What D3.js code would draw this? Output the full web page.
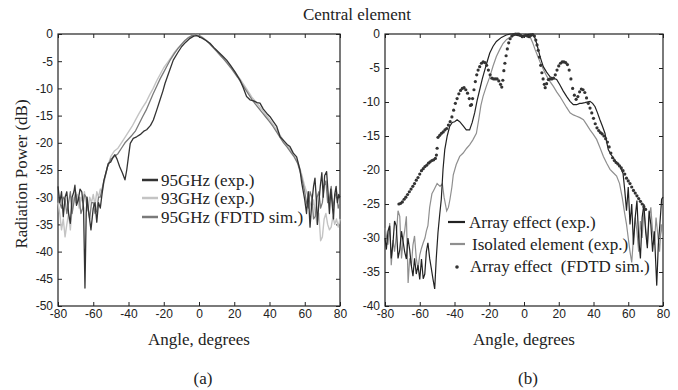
<!DOCTYPE html>
<html>
<head>
<meta charset="utf-8">
<script src="https://cdn.jsdelivr.net/npm/d3@7"></script>
<style>
  body { margin: 0; background: #fff; }
  svg { display: block; }
  .tick text { font-family: "Liberation Sans", Arial, sans-serif; font-size: 12px; fill: #222; }
  .serif { font-family: "Liberation Serif", "Times New Roman", serif; fill: #222; }
</style>
</head>
<body>
<svg id="chart" width="678" height="390"></svg>
<script>
// ---- data (angle in degrees, power in dB) ----
const xTicks = [-80, -60, -40, -20, 0, 20, 40, 60, 80];
const yTicksA = [0, -5, -10, -15, -20, -25, -30, -35, -40, -45, -50];
const yTicksB = [0, -5, -10, -15, -20, -25, -30, -35, -40];

const legendA = ["95GHz (exp.)", "93GHz (exp.)", "95GHz (FDTD sim.)"];
const legendB = ["Array effect (exp.)", "Isolated element (exp.)", "Array effect  (FDTD sim.)"];

const exp95 = [[-80,-28],[-79,-31],[-78,-29],[-77,-33.6],[-76,-30],[-75,-29],[-74,-33],[-73,-34.8],[-72,-30],[-71,-29],[-70.4,-27.8],[-69.5,-31.5],[-68.5,-30.5],[-67.5,-28.5],[-66.5,-29],[-65.5,-32],[-64.7,-46.7],[-64,-33],[-63.5,-30],[-62.5,-33],[-61.3,-36],[-60,-32],[-59,-31],[-58,-34.6],[-57,-31],[-56,-32],[-55.2,-29.9],[-54,-27],[-52.4,-25],[-51.5,-23.8],[-50,-23.5],[-48.5,-22.5],[-47.7,-22.2],[-46.5,-23],[-45,-24.4],[-43.5,-25.5],[-42,-26.8],[-41,-25],[-40,-22.5],[-39,-20.1],[-37.3,-19.2],[-35.4,-18.9],[-33,-18.4],[-31,-17.8],[-29.7,-17.6],[-27.5,-16.8],[-25.9,-15.8],[-24,-14],[-22.1,-12.1],[-20.5,-10.5],[-19.3,-9.1],[-17,-7],[-14.6,-4.8],[-12,-3.4],[-9.8,-2.3],[-7.5,-1.5],[-5.1,-0.8],[-3,-0.4],[-1.3,-0.3],[0,-0.5],[2,-0.8],[4,-1.2],[6.2,-1.7],[8.5,-2.5],[11,-3.3],[13.5,-4.1],[15.7,-4.8],[18,-5.8],[20.5,-7],[23.3,-8.5],[25,-9.8],[27,-11.5],[28.9,-12.1],[31,-12.3],[33,-12.6],[34.6,-12.7],[36.5,-13.8],[38.5,-14.6],[40.3,-15.2],[42,-16],[44.1,-17],[46,-18.9],[47.8,-19.5],[50,-20.3],[51.6,-20.7],[53.5,-21.9],[55.4,-22.6],[57.3,-25],[58.3,-27.4],[59.2,-29],[60,-30.5],[61,-33],[62,-29],[63,-35.5],[64,-31],[65,-28],[65.8,-26.5],[66.5,-30],[67.2,-35],[68,-31],[68.8,-28],[69.7,-25.5],[70.5,-30],[71.3,-26],[72.4,-25.3],[73.2,-29],[74,-33],[74.8,-28.5],[75.5,-31],[76.3,-34],[77,-29.5],[77.8,-28],[78.5,-31],[79.3,-29.5],[80,-30]];

const exp93 = [[-80,-31],[-79,-33],[-78,-36],[-77,-34],[-76,-37.3],[-75,-35],[-74,-33],[-73,-36],[-72,-32],[-71,-30],[-70,-31],[-69,-29.5],[-68,-32],[-67,-30],[-66,-31],[-65,-29],[-64,-31],[-63,-32.5],[-62,-30],[-61,-31],[-60,-29.5],[-59,-31.5],[-58,-29],[-57,-30],[-56,-28.5],[-55,-29],[-54,-27.5],[-52,-24.5],[-50,-22.5],[-48,-21.5],[-46,-21],[-44,-20],[-42,-19],[-40,-18],[-38,-17],[-36,-15.8],[-34,-14.6],[-32,-13.5],[-30,-12.5],[-28,-11.2],[-26,-10],[-24,-8.6],[-22,-7.4],[-20,-6.2],[-18,-5.3],[-16,-4.4],[-14,-3.4],[-12,-2.6],[-10,-2],[-8,-1.3],[-6,-0.6],[-4,-0.3],[-2,-0.1],[0,-0.2],[2,-0.6],[4,-1.1],[6,-1.7],[8,-2.4],[10,-3.1],[12,-3.8],[14,-4.5],[16,-5.2],[18,-6],[20,-6.8],[22,-7.7],[24,-8.6],[26,-9.6],[28,-10.6],[30,-11.6],[32,-12.4],[34,-13.2],[36,-14],[38,-14.9],[40,-15.7],[42,-16.6],[44,-17.6],[46,-18.6],[48,-19.6],[50,-20.5],[52,-21.4],[54,-22.4],[56,-23.5],[58,-25.5],[60,-28],[62,-30],[64,-32],[65,-30.5],[66,-33],[67,-35],[68,-33],[69,-38],[70,-37.3],[71,-34],[72,-33],[73,-35],[74,-36],[75,-35.5],[76,-33.5],[77,-35],[78,-34],[79,-35.5],[80,-34]];

const sim95 = [[-80,-29],[-79,-31],[-78,-32],[-77,-30],[-76,-30.5],[-75,-33],[-74,-31],[-73,-29],[-72,-33],[-71,-31],[-70,-29],[-69,-31],[-68,-30],[-67,-33],[-66,-32],[-65,-29.5],[-64,-30],[-63,-32],[-62,-34],[-61,-31],[-60,-31],[-59,-33],[-58,-32.5],[-57,-30],[-56,-30],[-55,-28.5],[-54,-27],[-52,-24.5],[-50,-23],[-48,-22.5],[-46,-22],[-44,-21],[-42,-20],[-40,-19.3],[-38,-18.6],[-36,-17.8],[-34,-16.5],[-32,-15.2],[-30,-14],[-28,-12.5],[-26,-11],[-24,-9.6],[-22,-8.2],[-20,-7],[-18,-5.8],[-16,-4.6],[-14,-3.6],[-12,-2.7],[-10,-1.9],[-8,-1.2],[-6,-0.7],[-4,-0.3],[-2,-0.1],[0,-0.3],[2,-0.7],[4,-1.2],[6,-1.8],[8,-2.5],[10,-3.2],[12,-3.9],[14,-4.6],[16,-5.4],[18,-6.2],[20,-7.1],[22,-8],[24,-9],[26,-10],[28,-11],[30,-12],[32,-12.9],[34,-13.7],[36,-14.5],[38,-15.3],[40,-16.1],[42,-17],[44,-18],[46,-19],[48,-20],[50,-20.8],[52,-21.7],[54,-22.6],[56,-23.8],[58,-26],[60,-29],[61,-31],[62,-32],[63,-29],[64,-30],[65,-34],[66,-33.5],[67,-30],[68,-29],[69,-32],[70,-31],[71,-28],[72,-27],[73,-31],[74,-30.5],[75,-28],[76,-32],[77,-30],[78,-29],[79,-32],[80,-31]];

const arrayExp = [[-80,-30],[-79.2,-31.7],[-78.3,-29],[-77.3,-28.2],[-76.4,-33],[-75.4,-30.7],[-74.5,-27.5],[-73.5,-28.2],[-72.5,-33],[-71.5,-31.7],[-70.5,-29],[-69.6,-30.5],[-68.7,-32],[-67.7,-33.1],[-66.8,-30],[-65.8,-31.7],[-64.9,-34],[-63.9,-35.6],[-63,-33],[-62,-35.3],[-61,-34],[-60,-36.1],[-59,-33.1],[-58,-36],[-57.1,-35.3],[-56.2,-32],[-55.3,-30.7],[-54.3,-33],[-53.4,-34.4],[-52.4,-36],[-51.4,-37.5],[-50.5,-33],[-49.5,-29.2],[-48.5,-26.5],[-47.6,-24.3],[-46.6,-19.9],[-45.6,-17],[-44.2,-15],[-42.8,-13.6],[-41.3,-13],[-39.9,-12.9],[-38.5,-12.6],[-37,-12.9],[-35,-13.5],[-33.2,-14.1],[-31.3,-14.1],[-29.8,-13],[-28.4,-11.6],[-27,-9.8],[-25.5,-8.2],[-24,-6.6],[-22.6,-5.3],[-21,-3.9],[-19.7,-2.8],[-17.8,-1.8],[-15.9,-1.1],[-13,-0.5],[-10.2,-0.15],[-8,0],[-6.3,0],[-4,-0.2],[-2,-0.3],[0,-0.2],[2,-0.1],[4,0],[5.4,-0.1],[6.3,-0.6],[7.3,-1.4],[8.2,-2.3],[9.2,-3.3],[10.2,-4.1],[11.1,-4.8],[13,-5.6],[15,-6.3],[17,-6.5],[18.8,-6.7],[20.7,-7.5],[22.6,-8.4],[24.6,-9.2],[26.5,-9.9],[28.4,-10.4],[30.3,-10.4],[32,-10.2],[33.2,-10.2],[35,-10.1],[38,-9.9],[39.5,-10.2],[40.9,-10.7],[42.3,-11.6],[43.7,-12.6],[45.2,-13.6],[46.6,-14.6],[47.5,-15.8],[48.5,-17],[50,-17.7],[51.4,-18.2],[53.3,-18.9],[55.3,-19.5],[57,-20.5],[58,-23],[59,-26],[60,-22.5],[61,-28],[62,-25],[63,-31],[64,-27],[65,-24.5],[66,-30],[67,-33],[68,-27],[69,-25],[70,-29],[71,-31.5],[72,-26],[73,-28],[74,-32],[75,-29],[76.4,-37],[77.3,-31],[78.2,-28],[79.2,-24.3],[80,-24]];

const isolatedExp = [[-80,-28.5],[-79.2,-29.7],[-78.3,-31],[-77.3,-27.8],[-76.4,-34],[-75.4,-30.3],[-74.5,-32],[-73.5,-29.7],[-72.5,-26],[-71.5,-26.8],[-70.5,-33],[-69.6,-30.3],[-68.7,-29],[-67.7,-26.8],[-66.7,-36.6],[-65.8,-33],[-64.8,-34],[-63.9,-31],[-63,-29.7],[-62,-33],[-61,-34.5],[-60,-32.5],[-59,-31.5],[-58,-30.7],[-57,-30],[-56.2,-29],[-55.3,-28.2],[-54.3,-25.5],[-53,-23.5],[-52,-23],[-50,-22],[-48.3,-22.4],[-47,-22],[-46,-24],[-44.5,-26],[-43.5,-25.5],[-42.6,-24.3],[-41.5,-22.5],[-40.7,-20.7],[-39,-19.2],[-37,-18],[-35,-17.5],[-33,-16.8],[-31.3,-16.3],[-29.5,-15.6],[-27.4,-14.6],[-26,-12.5],[-24.8,-10.5],[-23.6,-9.2],[-21.7,-7.7],[-19.7,-6.3],[-17.8,-4.7],[-15.9,-3.3],[-14,-2.3],[-12.1,-1.4],[-10,-0.8],[-7.5,-0.4],[-4.5,-0.1],[-2,-0.2],[0,-0.1],[2,-0.2],[3.5,-0.4],[5,-1.3],[6.4,-2.3],[7.8,-3.2],[9.2,-4.1],[11.1,-5.2],[13.1,-6.2],[15,-7],[16.9,-7.7],[18.8,-8.5],[20.7,-9.2],[22.6,-10],[24.5,-10.8],[26.5,-11.6],[28.4,-11.9],[30.3,-12.1],[32.2,-12.3],[34.2,-12.6],[36,-13.3],[38,-14.1],[40,-14.8],[41.8,-15.5],[43.7,-16.7],[45.7,-18],[47.6,-19],[49.5,-19.9],[51.4,-20.4],[53.3,-20.9],[55,-22],[56.5,-24],[58,-26.5],[59,-28],[60,-30],[61,-32],[62,-33.6],[63,-30],[64,-27],[65,-29],[66,-32],[67,-27.5],[68,-30],[69,-26],[70,-28.5],[71,-31],[72,-27],[73,-25.5],[74,-29],[75,-31],[76,-27],[77,-29.5],[78,-32],[79,-28],[80,-30]];

const arraySim = [[-72,-25],[-71,-24.9],[-70,-24.7],[-69,-24.3],[-68,-24],[-67,-23.6],[-66,-23.2],[-65,-22.8],[-64,-22.4],[-63,-22],[-62,-21.5],[-61,-21.1],[-60,-20.6],[-59,-20.1],[-58,-19.8],[-57,-19.5],[-56,-19.3],[-55,-19],[-54,-18.8],[-53,-18.6],[-52,-18.5],[-51,-18.3],[-50.4,-17.8],[-50,-16.8],[-49.5,-15.2],[-48.5,-14.9],[-47.5,-14.6],[-46.5,-14.4],[-45.5,-14.1],[-44.5,-13.9],[-43.5,-13.4],[-42.5,-12.9],[-41.5,-12.2],[-40.5,-11.2],[-39.5,-10.2],[-38.5,-9.5],[-37.5,-8.8],[-36.5,-8.3],[-35.5,-8],[-34.5,-7.9],[-33.5,-8.2],[-32.5,-8.7],[-31.5,-9.5],[-30.8,-10.5],[-30.2,-10.4],[-29.6,-9.5],[-28.8,-8.2],[-28,-7],[-27.2,-6],[-26.4,-5.3],[-25.5,-4.8],[-24.5,-4.3],[-23.5,-4.1],[-22.5,-4.2],[-21.5,-4.6],[-20.5,-5.3],[-19.5,-6],[-18.5,-6.5],[-17.5,-6.6],[-16.5,-6.6],[-15.5,-6.6],[-14.5,-6.9],[-13.5,-7.4],[-12.8,-7.8],[-12.2,-6.8],[-11.6,-5.4],[-11,-4.3],[-10.3,-3.2],[-9.6,-2.2],[-8.8,-1.3],[-8,-0.7],[-7,-0.3],[-6,-0.1],[-5,0],[-4,0],[-3,0],[-2,-0.2],[-1,-0.4],[0,-0.3],[1,-0.2],[2,-0.3],[3,-0.4],[4,-0.2],[5,-0.1],[6,-0.3],[6.8,-0.9],[7.5,-1.6],[8.2,-2.4],[8.9,-3.4],[9.6,-4.6],[10.3,-5.7],[11,-6.6],[11.7,-7.4],[12.2,-7.9],[13,-7.3],[14,-6.7],[15,-6.6],[16,-6.6],[17,-6.5],[18,-6],[19,-5.3],[20,-4.7],[21,-4.3],[22,-4.1],[23,-4.1],[24,-4.2],[25,-4.5],[26,-5.3],[27,-6.6],[28,-8],[29,-9],[30,-9.6],[31,-9.2],[32,-8.5],[33,-8.1],[34,-8.2],[35,-8.6],[36,-9.4],[37,-10.2],[38,-10.9],[39,-11.6],[40,-12.4],[41,-13.2],[42,-13.8],[43,-14.2],[44,-14.5],[45,-14.7],[46,-15],[47,-15.4],[48,-15.9],[49,-16.6],[50,-17.5],[51,-18.2],[52,-18.6],[53,-18.9],[54,-19.1],[55,-19.4],[56,-19.7],[57,-20.1],[58,-20.6],[59,-21.2],[60,-21.6],[61,-22],[62,-22.5],[63,-23],[64,-23.4],[65,-23.8],[66,-24.2],[67,-24.6],[68,-25],[69,-25.4],[70,-25.8]];

// ---- drawing ----
const svg = d3.select("#chart");

svg.append("text").attr("class", "serif")
  .attr("x", 357).attr("y", 20).attr("text-anchor", "middle")
  .attr("font-size", 17).text("Central element");

svg.append("text").attr("class", "serif")
  .attr("transform", "translate(27,174) rotate(-90)")
  .attr("text-anchor", "middle").attr("font-size", 17)
  .text("Radiation Power (dB)");

function panel(left, right, yMin, yTicks, label) {
  const top = 34, bottom = 306;
  const x = d3.scaleLinear().domain([-80, 80]).range([left, right]);
  const y = d3.scaleLinear().domain([yMin, 0]).range([bottom, top]);
  const g = svg.append("g");
  const fmt = d => String(d);

  g.append("g").attr("transform", `translate(0,${bottom})`)
    .call(d3.axisBottom(x).tickValues(xTicks).tickSize(-4).tickPadding(3).tickFormat(fmt));
  g.append("g").attr("transform", `translate(0,${top})`)
    .call(d3.axisTop(x).tickValues(xTicks).tickSize(-4).tickFormat(""));
  g.append("g").attr("transform", `translate(${left},0)`)
    .call(d3.axisLeft(y).tickValues(yTicks).tickSize(-4).tickPadding(5).tickFormat(fmt));
  g.append("g").attr("transform", `translate(${right},0)`)
    .call(d3.axisRight(y).tickValues(yTicks).tickSize(-4).tickFormat(""));
  g.selectAll(".domain").remove();
  g.selectAll(".tick line").attr("stroke", "#222");

  g.append("rect").attr("x", left).attr("y", top)
    .attr("width", right - left).attr("height", bottom - top)
    .attr("fill", "none").attr("stroke", "#222").attr("stroke-width", 1.2);

  const cx = (left + right) / 2;
  g.append("text").attr("class", "serif").attr("x", cx).attr("y", 345)
    .attr("text-anchor", "middle").attr("font-size", 17).text("Angle, degrees");
  g.append("text").attr("class", "serif").attr("x", cx + 4).attr("y", 384)
    .attr("text-anchor", "middle").attr("font-size", 17).text(label);

  const line = d3.line().x(d => x(d[0])).y(d => y(d[1]));
  return { g, x, y, line };
}

// (a)
const pa = panel(58, 340, -50, yTicksA, "(a)");
const seriesA = [
  { data: exp93, color: "#c4c4c4", w: 1.4 },
  { data: sim95, color: "#7a7a7a", w: 1.3 },
  { data: exp95, color: "#333", w: 1.3 }
];
seriesA.forEach(s => {
  pa.g.append("path").datum(s.data).attr("d", pa.line)
    .attr("fill", "none").attr("stroke", s.color).attr("stroke-width", s.w)
    .attr("stroke-linejoin", "round");
});
const legColorsA = ["#333", "#c4c4c4", "#7a7a7a"];
legendA.forEach((t, i) => {
  const yb = [186, 204, 223][i];
  pa.g.append("line").attr("x1", 142).attr("x2", 158)
    .attr("y1", yb - 6).attr("y2", yb - 6)
    .attr("stroke", legColorsA[i]).attr("stroke-width", 2.5);
  pa.g.append("text").attr("class", "serif").attr("x", 161).attr("y", yb)
    .attr("font-size", 17).text(t);
});

// (b)
const pb = panel(385, 663, -40, yTicksB, "(b)");
pb.g.append("path").datum(isolatedExp).attr("d", pb.line)
  .attr("fill", "none").attr("stroke", "#8f8f8f").attr("stroke-width", 1.2);
pb.g.append("path").datum(arrayExp).attr("d", pb.line)
  .attr("fill", "none").attr("stroke", "#222").attr("stroke-width", 1.2);
pb.g.selectAll("circle.sim").data(arraySim).join("circle")
  .attr("class", "sim")
  .attr("cx", d => pb.x(d[0])).attr("cy", d => pb.y(d[1]))
  .attr("r", 1.6).attr("fill", "#333");

[["#222", 448, 465], ["#8f8f8f", 450, 465]].forEach((s, i) => {
  const yb = [228, 250][i];
  pb.g.append("line").attr("x1", s[1]).attr("x2", s[2])
    .attr("y1", yb - 6).attr("y2", yb - 6)
    .attr("stroke", s[0]).attr("stroke-width", 2.2);
});
pb.g.append("circle").attr("cx", 457).attr("cy", 267).attr("r", 1.8).attr("fill", "#333");
legendB.forEach((t, i) => {
  pb.g.append("text").attr("class", "serif")
    .attr("x", [469, 472, 470][i]).attr("y", [228, 250, 272][i])
    .attr("font-size", 17).attr("xml:space", "preserve").style("white-space", "pre")
    .text(t);
});
</script>
</body>
</html>
